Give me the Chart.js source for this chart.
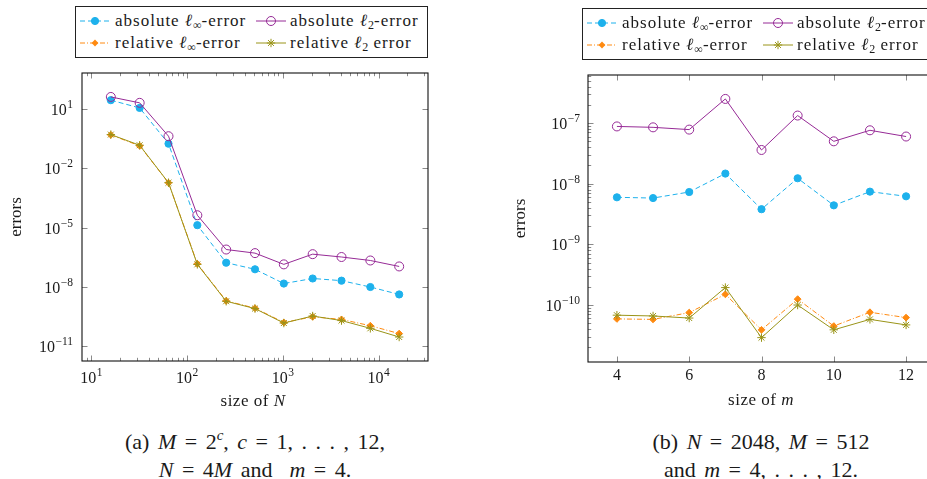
<!DOCTYPE html>
<html>
<head>
<meta charset="utf-8">
<script src="https://cdn.jsdelivr.net/npm/chart.js@4.4.1/dist/chart.umd.min.js"></script>
<style>
  body { margin: 0; width: 927px; height: 479px; overflow: hidden; position: relative; background: #fff; color: #1a1a1a; font-family: "Liberation Serif", "Times New Roman", "DejaVu Serif", serif; }
  .abs { position: absolute; }
  .legend { position: absolute; width: 353px; height: 52px; border: 1px solid #222; box-sizing: border-box; background: #fff; font-size: 17px; }
  .legend .item { position: absolute; white-space: nowrap; line-height: 20px; }
  .legend .txt { letter-spacing: 1px; }
  .legend svg { position: absolute; }
  .legend sub { font-size: 12px; vertical-align: -3px; line-height: 0; letter-spacing: 0; }
  .xtitle { position: absolute; width: 200px; text-align: center; font-size: 17px; line-height: 20px; letter-spacing: 0.5px; }
  .caption { position: absolute; width: 420px; text-align: center; font-size: 22px; line-height: 28px; word-spacing: 3px; }
  .caption sup { font-size: 15px; line-height: 0; vertical-align: 9px; }
</style>
</head>
<body>
<div class="abs" style="left:0;top:0;width:470px;height:420px"><canvas id="chartA" width="470" height="420"></canvas></div>
<div class="abs" style="left:480px;top:0;width:480px;height:420px"><canvas id="chartB" width="480" height="420"></canvas></div>
<div class="legend" id="legA" style="left:75px;top:6px"></div>
<div class="legend" id="legB" style="left:582px;top:8px"></div>
<div class="xtitle" style="left:153px;top:391px">size of <i>N</i></div>
<div class="xtitle" style="left:661px;top:390px">size of <i>m</i></div>
<div class="caption" style="left:45px;top:428px">(a) <i>M</i> = 2<sup><i>c</i></sup>, <i>c</i> = 1, . . . , 12,<br><i>N</i> = 4<i>M</i> and &nbsp;<i>m</i> = 4.</div>
<div class="caption" style="left:551px;top:428px">(b) <i>N</i> = 2048, <i>M</i> = 512<br>and <i>m</i> = 4, . . . , 12.</div>
<script>
/* (a) errors against N = 4M, M = 2^c */
const sizesN = [16, 32, 64, 128, 256, 512, 1024, 2048, 4096, 8192, 16384];
const absInfN = [28.6, 11.6, 0.18, 1.35e-5, 1.7e-7, 7.9e-8, 1.5e-8, 2.7e-8, 2.1e-8, 1.0e-8, 4.2e-9];
const absL2N = [41.7, 21, 0.43, 4.3e-5, 7.9e-7, 5.2e-7, 1.4e-7, 4.6e-7, 3.3e-7, 2.2e-7, 1.1e-7];
const relInfN = [0.5, 0.14, 1.9e-3, 1.5e-7, 2.0e-9, 8.5e-10, 1.6e-10, 3.1e-10, 2.3e-10, 1.1e-10, 4.4e-11];
const relL2N = [0.52, 0.15, 1.9e-3, 1.4e-7, 1.9e-9, 8.1e-10, 1.5e-10, 3.4e-10, 2.0e-10, 8.1e-11, 2.95e-11];

/* (b) errors against m, N = 2048 */
const sizesM = [4, 5, 6, 7, 8, 9, 10, 11, 12];
const absInfM = [5.97e-9, 5.8e-9, 7.3e-9, 1.47e-8, 3.8e-9, 1.23e-8, 4.4e-9, 7.4e-9, 6.2e-9];
const absL2M = [8.8e-8, 8.5e-8, 7.8e-8, 2.5e-7, 3.6e-8, 1.33e-7, 5.0e-8, 7.6e-8, 6.0e-8];
const relInfM = [5.9e-11, 5.8e-11, 7.5e-11, 1.5e-10, 3.9e-11, 1.25e-10, 4.5e-11, 7.6e-11, 6.2e-11];
const relL2M = [6.8e-11, 6.6e-11, 6.1e-11, 1.94e-10, 2.9e-11, 1.0e-10, 3.9e-11, 5.8e-11, 4.7e-11];

/* ticks */
const xTicksA = [10, 100, 1000, 10000];
const xTickLabelsA = ['10^1', '10^2', '10^3', '10^4'];
const yTicksA = [1e1, 1e-2, 1e-5, 1e-8, 1e-11];
const yTickLabelsA = ['10^1', '10^−2', '10^−5', '10^−8', '10^−11'];
const xTicksB = [4, 6, 8, 10, 12];
const xTickLabelsB = ['4', '6', '8', '10', '12'];
const yTicksB = [1e-7, 1e-8, 1e-9, 1e-10];
const yTickLabelsB = ['10^−7', '10^−8', '10^−9', '10^−10'];

const seriesNames = [
  'absolute <i>ℓ</i><sub>∞</sub>-error',
  'absolute <i>ℓ</i><sub>2</sub>-error',
  'relative <i>ℓ</i><sub>∞</sub>-error',
  'relative <i>ℓ</i><sub>2</sub> error'
];

const CYAN = '#1db1ec', PURPLE = '#962a96', ORANGE = '#ff8a10', OLIVE = '#9a9418';
const FONT = '"Liberation Serif", "Times New Roman", "DejaVu Serif", serif';

/* style of each series: dash, marker */
const styles = [
  { color: CYAN, dash: [5, 3], point: 'circle', r: 3.6, fill: CYAN, order: 4 },
  { color: PURPLE, dash: [], point: 'circle', r: 4.5, fill: 'rgba(0,0,0,0)', order: 3 },
  { color: ORANGE, dash: [5, 2, 1, 2], point: 'rectRot', r: 3.4, fill: ORANGE, order: 2 },
  { color: OLIVE, dash: [], point: 'star', r: 4.2, fill: OLIVE, order: 1 }
];

function makeDatasets(xs, lists) {
  return lists.map((ys, i) => {
    const s = styles[i];
    return {
      label: seriesNames[i].replace(/<[^>]+>/g, ''),
      data: xs.map((x, k) => ({ x, y: ys[k] })),
      borderColor: s.color, borderWidth: 1, borderDash: s.dash,
      pointStyle: s.point, pointRadius: s.r, pointBackgroundColor: s.fill,
      pointBorderColor: s.color, pointBorderWidth: 1, order: s.order,
      tension: 0, fill: false
    };
  });
}

/* superscript label like 10^−2 */
function drawPow(ctx, label, x, y, align) {
  const [base, exp] = label.split('^');
  ctx.font = `16px ${FONT}`;
  const wb = ctx.measureText(base).width;
  ctx.font = `11.5px ${FONT}`;
  const we = exp ? ctx.measureText(exp).width + 0.5 : 0;
  const w = wb + we;
  const x0 = align === 'right' ? x - w : align === 'center' ? x - w / 2 : x;
  ctx.textAlign = 'left';
  ctx.textBaseline = 'alphabetic';
  ctx.fillStyle = '#1a1a1a';
  ctx.font = `16px ${FONT}`;
  ctx.fillText(base, x0, y);
  if (exp) {
    ctx.font = `11.5px ${FONT}`;
    ctx.fillText(exp, x0 + wb + 0.5, y - 7);
  }
}

function logMinors(min, max) {
  const out = [];
  for (let e = Math.floor(Math.log10(min)); e <= Math.ceil(Math.log10(max)); e++) {
    for (let k = 2; k <= 9; k++) {
      const v = k * Math.pow(10, e);
      if (v > min && v < max) out.push(v);
    }
  }
  return out;
}

/* pgfplots-like box axis with inside ticks */
const pgfAxes = {
  id: 'pgfAxes',
  beforeDatasetsDraw(chart, args, o) {
    const { ctx, chartArea: a, scales: { x, y } } = chart;
    const seg = (x1, y1, x2, y2) => { ctx.beginPath(); ctx.moveTo(x1, y1); ctx.lineTo(x2, y2); ctx.stroke(); };
    ctx.save();
    ctx.strokeStyle = '#8a8a8a';
    ctx.lineWidth = 1;
    const xMinor = o.xMinor ? logMinors(x.min, x.max) : [];
    const yMinor = o.yMinor ? logMinors(y.min, y.max) : [];
    o.xTicks.forEach(v => { const p = Math.round(x.getPixelForValue(v)) + 0.5; seg(p, a.bottom, p, a.bottom - 5.5); seg(p, a.top, p, a.top + 5.5); });
    xMinor.forEach(v => { const p = Math.round(x.getPixelForValue(v)) + 0.5; seg(p, a.bottom, p, a.bottom - 3.2); seg(p, a.top, p, a.top + 3.2); });
    o.yTicks.forEach(v => { const p = Math.round(y.getPixelForValue(v)) + 0.5; seg(a.left, p, a.left + 5.5, p); seg(a.right, p, a.right - 5.5, p); });
    yMinor.forEach(v => { const p = Math.round(y.getPixelForValue(v)) + 0.5; seg(a.left, p, a.left + 3.2, p); seg(a.right, p, a.right - 3.2, p); });
    ctx.strokeStyle = '#111';
    ctx.lineWidth = 1.1;
    ctx.strokeRect(a.left, a.top, a.right - a.left, a.bottom - a.top);
    o.xTicks.forEach((v, i) => drawPow(ctx, o.xLabels[i], x.getPixelForValue(v), a.bottom + o.xLabelGap, 'center'));
    o.yTicks.forEach((v, i) => drawPow(ctx, o.yLabels[i], a.left - o.yLabelGap, y.getPixelForValue(v) + 6, 'right'));
    ctx.restore();
  }
};

function makeChart(id, cfg) {
  return new Chart(document.getElementById(id), {
    type: 'line',
    data: { datasets: cfg.datasets },
    plugins: [pgfAxes],
    options: {
      responsive: false,
      animation: false,
      layout: { padding: { left: 0, top: cfg.padTop, right: cfg.padRight, bottom: 0 } },
      plugins: { legend: { display: false }, tooltip: { enabled: false }, pgfAxes: cfg.axes },
      scales: {
        x: {
          type: cfg.xType, min: cfg.xMin, max: cfg.xMax, bounds: 'data',
          grid: { display: false, drawTicks: false }, border: { display: false },
          ticks: { display: false },
          afterFit: (s) => { s.height = cfg.xHeight; }
        },
        y: {
          type: 'logarithmic', min: cfg.yMin, max: cfg.yMax, bounds: 'data',
          grid: { display: false, drawTicks: false }, border: { display: false },
          ticks: { display: false },
          title: { display: true, text: 'errors', color: '#1a1a1a', font: { family: FONT, size: 17 }, padding: { top: cfg.titlePad, bottom: 0 } },
          afterFit: (s) => { s.width = cfg.yWidth; }
        }
      }
    }
  });
}

makeChart('chartA', {
  datasets: makeDatasets(sizesN, [absInfN, absL2N, relInfN, relL2N]),
  xType: 'logarithmic', xMin: 8, xMax: 32768, yMin: 1.8e-12, yMax: 680,
  padTop: 73, padRight: 42, xHeight: 59, yWidth: 82, titlePad: 6.8,
  axes: { xTicks: xTicksA, xLabels: xTickLabelsA, yTicks: yTicksA, yLabels: yTickLabelsA, xMinor: true, yMinor: false, xLabelGap: 22, yLabelGap: 9 }
});

makeChart('chartB', {
  datasets: makeDatasets(sizesM, [absInfM, absL2M, relInfM, relL2M]),
  xType: 'linear', xMin: 3.2, xMax: 12.8, yMin: 1.15e-11, yMax: 6.2e-7,
  padTop: 75, padRight: 25, xHeight: 58, yWidth: 108, titlePad: 30.8,
  axes: { xTicks: xTicksB, xLabels: xTickLabelsB, yTicks: yTicksB, yLabels: yTickLabelsB, xMinor: false, yMinor: true, xLabelGap: 18, yLabelGap: 8 }
});

/* legends */
function sampleSvg(i) {
  const s = styles[i];
  const dash = s.dash.length ? `stroke-dasharray="${s.dash.join(',')}"` : '';
  let mark;
  if (s.point === 'circle') {
    mark = `<circle cx="15" cy="6" r="${s.r}" fill="${s.fill}" stroke="${s.color}" stroke-width="1"/>`;
  } else if (s.point === 'rectRot') {
    const r = s.r;
    mark = `<polygon points="15,${6 - r} ${15 + r},6 15,${6 + r} ${15 - r},6" fill="${s.fill}"/>`;
  } else {
    const r = s.r;
    mark = `<path d="M${15 - r},6H${15 + r}M15,${6 - r}V${6 + r}M${15 - r * 0.7},${6 - r * 0.7}L${15 + r * 0.7},${6 + r * 0.7}M${15 - r * 0.7},${6 + r * 0.7}L${15 + r * 0.7},${6 - r * 0.7}" stroke="${s.color}" stroke-width="1"/>`;
  }
  return `<svg width="30" height="12" viewBox="0 0 30 12"><line x1="0" y1="6" x2="30" y2="6" stroke="${s.color}" stroke-width="1" ${dash}/>${mark}</svg>`;
}

function buildLegend(id) {
  const el = document.getElementById(id);
  const cols = [{ svg: 4, text: 39 }, { svg: 180, text: 214 }];
  const rows = [15, 37];
  seriesNames.forEach((name, i) => {
    const c = cols[i % 2], r = rows[Math.floor(i / 2)];
    el.insertAdjacentHTML('beforeend',
      `<div class="item" style="left:${c.svg}px;top:${r - 7}px">${sampleSvg(i)}</div>` +
      `<div class="item txt" style="left:${c.text}px;top:${r - 11}px">${name}</div>`);
  });
}
buildLegend('legA');
buildLegend('legB');
</script>
</body>
</html>
